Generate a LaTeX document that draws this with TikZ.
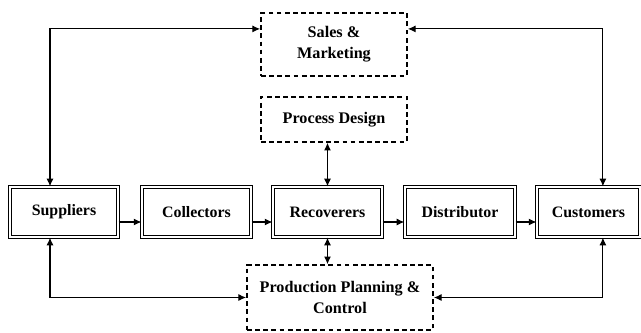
\documentclass[tikz,border=0pt]{standalone}
\usepackage{fontspec}
\setmainfont{Liberation Serif}
\usetikzlibrary{arrows.meta,positioning}

\begin{document}
\begin{tikzpicture}[x=0.025cm, y=-0.025cm,
  stage/.style={
    draw, double, double distance=1.3pt, line width=0.85pt,
    minimum height=1.25cm, inner sep=2pt,
    text centered, font=\fontsize{11.3}{12}\selectfont\bfseries
  },
  func/.style={
    draw, dash pattern=on 3.4pt off 2.4pt, line width=1.2pt,
    align=center, inner sep=2pt,
    font=\fontsize{11.5}{15}\selectfont\bfseries
  },
  arr/.style={-{Latex[length=5.5pt,width=5pt]}, line width=0.8pt},
  biarr/.style={{Latex[length=5.5pt,width=5pt]}-{Latex[length=5.5pt,width=5pt]}, line width=0.8pt}
]
\useasboundingbox (0,0) rectangle (641,332);
% chain of stages
\node[stage, minimum width=2.70cm] (sup) at (64,212)    {Suppliers};
\node[stage, minimum width=2.72cm] (col) at (196.5,212) {Collectors};
\node[stage, minimum width=2.72cm] (rec) at (327.5,212) {Recoverers};
\node[stage, minimum width=2.75cm] (dis) at (460,212)   {Distributor};
\node[stage, minimum width=2.57cm] (cus) at (588.5,212) {Customers};
% supporting functions
\node[func, minimum width=3.65cm, minimum height=1.57cm] (sal) at (334,44.5)  {Sales \&\\Marketing};
\node[func, minimum width=3.65cm, minimum height=1.12cm] (pro) at (334,119.5) {Process Design};
\node[func, minimum width=4.65cm, minimum height=1.62cm] (ppc) at (340,297.5) {Production Planning \&\\Control};
\draw[arr] ([yshift=-0.25cm]sup.east) -- ([yshift=-0.25cm]col.west);
\draw[arr] ([yshift=-0.25cm]col.east) -- ([yshift=-0.25cm]rec.west);
\draw[arr] ([yshift=-0.25cm]rec.east) -- ([yshift=-0.25cm]dis.west);
\draw[arr] ([yshift=-0.25cm]dis.east) -- ([yshift=-0.25cm]cus.west);
\draw[biarr] (rec.north) -- (rec.north |- pro.south);
\draw[biarr] (rec.south) -- (rec.south |- ppc.north);
\draw[biarr] ([xshift=-0.35cm]sup.north) |- ([yshift=0.39cm]sal.west);
\draw[biarr] ([xshift=0.36cm]cus.north) |- ([yshift=0.39cm]sal.east);
\draw[biarr] ([xshift=-0.35cm]sup.south) |- (ppc.west);
\draw[biarr] ([xshift=0.36cm]cus.south) |- (ppc.east);
\end{tikzpicture}
\end{document}
